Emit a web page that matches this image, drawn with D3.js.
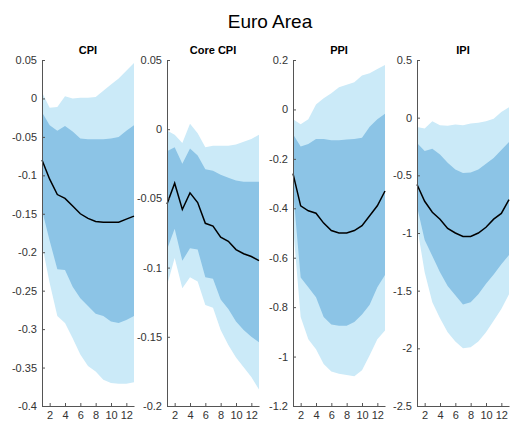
<!DOCTYPE html>
<html><head><meta charset="utf-8">
<script src="https://cdn.jsdelivr.net/npm/d3@7"></script>
<style>body{margin:0;background:#fff;font-family:Arial,"Liberation Sans",sans-serif}</style>
</head><body><svg id="c" width="511" height="426"></svg>
<script>
var horizon = d3.range(1, 14);
var titles = ["CPI", "Core CPI", "PPI", "IPI"];
var yDomains = [[-0.4, 0.05], [-0.2, 0.05], [-1.2, 0.2], [-2.5, 0.5]];
var yTicks = [[-0.4, -0.35, -0.3, -0.25, -0.2, -0.15, -0.1, -0.05, 0, 0.05], [-0.2, -0.15, -0.1, -0.05, 0, 0.05], [-1.2, -1, -0.8, -0.6, -0.4, -0.2, 0, 0.2], [-2.5, -2, -1.5, -1, -0.5, 0, 0.5]];
var median = [
  [-0.08,-0.105,-0.125,-0.13,-0.14,-0.15,-0.156,-0.16,-0.161,-0.161,-0.161,-0.157,-0.153],
  [-0.054,-0.039,-0.058,-0.046,-0.053,-0.068,-0.07,-0.078,-0.081,-0.087,-0.09,-0.092,-0.095],
  [-0.26,-0.39,-0.41,-0.42,-0.46,-0.49,-0.5,-0.5,-0.49,-0.47,-0.43,-0.39,-0.33],
  [-0.58,-0.725,-0.82,-0.88,-0.96,-1.0,-1.03,-1.03,-1.0,-0.95,-0.88,-0.83,-0.71]];
var innerUp = [
  [-0.018,-0.035,-0.042,-0.036,-0.043,-0.052,-0.053,-0.053,-0.053,-0.052,-0.05,-0.042,-0.035],
  [-0.016,-0.013,-0.025,-0.014,-0.019,-0.029,-0.03,-0.033,-0.035,-0.037,-0.038,-0.038,-0.038],
  [-0.1,-0.15,-0.14,-0.12,-0.12,-0.125,-0.125,-0.122,-0.12,-0.115,-0.07,-0.04,-0.017],
  [-0.22,-0.29,-0.27,-0.32,-0.39,-0.45,-0.48,-0.475,-0.45,-0.4,-0.35,-0.28,-0.21]];
var innerLo = [
  [-0.145,-0.185,-0.222,-0.223,-0.245,-0.26,-0.27,-0.28,-0.283,-0.29,-0.292,-0.288,-0.283],
  [-0.087,-0.072,-0.095,-0.086,-0.087,-0.107,-0.108,-0.123,-0.13,-0.139,-0.145,-0.15,-0.154],
  [-0.325,-0.68,-0.72,-0.76,-0.84,-0.87,-0.875,-0.875,-0.86,-0.83,-0.79,-0.72,-0.67],
  [-0.77,-1.06,-1.2,-1.34,-1.46,-1.54,-1.62,-1.6,-1.53,-1.44,-1.36,-1.27,-1.19]];
var outerUp = [
  [0.008,-0.012,-0.011,0.003,0,0.001,0.001,0.002,0.01,0.018,0.026,0.036,0.046],
  [-0.001,-0.004,-0.01,0.004,-0.003,-0.013,-0.012,-0.012,-0.012,-0.011,-0.009,-0.007,-0.004],
  [-0.04,-0.06,-0.04,0.02,0.045,0.065,0.09,0.1,0.11,0.137,0.146,0.164,0.18],
  [-0.08,-0.095,-0.03,-0.065,-0.07,-0.06,-0.065,-0.05,-0.045,-0.03,-0.01,0.05,0.09]];
var outerLo = [
  [-0.19,-0.24,-0.283,-0.292,-0.312,-0.333,-0.348,-0.355,-0.366,-0.37,-0.371,-0.371,-0.369],
  [-0.113,-0.093,-0.115,-0.107,-0.11,-0.127,-0.129,-0.145,-0.156,-0.165,-0.172,-0.179,-0.188],
  [-0.47,-0.84,-0.93,-0.97,-1.03,-1.06,-1.07,-1.075,-1.08,-1.055,-0.995,-0.93,-0.895],
  [-0.94,-1.34,-1.6,-1.74,-1.86,-1.94,-2.0,-1.99,-1.94,-1.86,-1.76,-1.66,-1.53]];

var svg = d3.select("#c");
var panelLeft = [42, 167, 293, 417], panelW = 92, plotTop = 60, plotBottom = 406;

svg.append("text").attr("x", 270).attr("y", 28).attr("text-anchor", "middle")
  .attr("font-size", 19).attr("fill", "#000").text("Euro Area");

titles.forEach(function (t, k) {
  var g = svg.append("g");
  var x = d3.scaleLinear().domain([1, 13]).range([panelLeft[k], panelLeft[k] + panelW]);
  var y = d3.scaleLinear().domain(yDomains[k]).range([plotBottom, plotTop]);
  var band = function (lo, hi) {
    return d3.area().x(function (d, i) { return x(horizon[i]); })
      .y0(function (d, i) { return y(lo[i]); }).y1(function (d, i) { return y(hi[i]); })(horizon);
  };
  g.append("path").attr("d", band(outerLo[k], outerUp[k])).attr("fill", "#cbeaf8");
  g.append("path").attr("d", band(innerLo[k], innerUp[k])).attr("fill", "#8cc4e6");
  g.append("path").datum(median[k]).attr("fill", "none").attr("stroke", "#000").attr("stroke-width", 1.5)
    .attr("d", d3.line().x(function (d, i) { return x(horizon[i]); }).y(function (d) { return y(d); }));

  var ya = g.append("g").attr("transform", "translate(" + panelLeft[k] + ",0)")
    .call(d3.axisLeft(y).tickValues(yTicks[k]).tickSize(-3).tickSizeOuter(0).tickPadding(5)
      .tickFormat(function (d) { return String(+d.toFixed(2)); }));
  var xa = g.append("g").attr("transform", "translate(0," + plotBottom + ")")
    .call(d3.axisBottom(x).tickValues([2, 4, 6, 8, 10, 12]).tickSize(-3).tickPadding(5).tickSizeOuter(0));
  [ya, xa].forEach(function (a) {
    a.select(".domain").attr("stroke", "#555");
    a.selectAll("line").attr("stroke", "#555");
    a.selectAll("text").attr("fill", "#333").attr("font-size", 11).attr("font-family", "Arial, 'Liberation Sans', sans-serif");
  });
  g.append("text").attr("x", panelLeft[k] + panelW / 2).attr("y", 54).attr("text-anchor", "middle")
    .attr("font-size", 11).attr("font-weight", "bold").text(t);
});
</script></body></html>
